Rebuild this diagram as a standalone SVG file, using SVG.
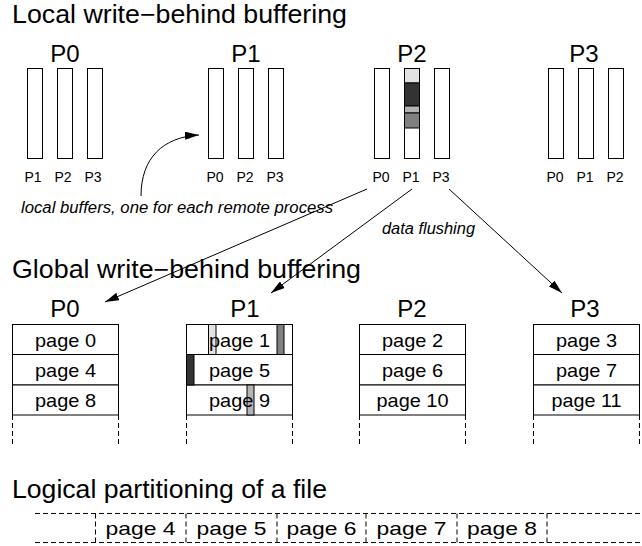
<svg xmlns="http://www.w3.org/2000/svg" width="642" height="546" viewBox="0 0 642 546">
<style>
text{font-family:"Liberation Sans",Arial,sans-serif;fill:#000}
.title{font-size:25px}
.big{font-size:24px;text-anchor:middle}
.small{font-size:14px;text-anchor:middle}
.page{font-size:19px;text-anchor:middle}
.note{font-size:16px;font-style:italic}
.bar{fill:#fff;stroke:#000;stroke-width:1}
.cell{fill:#fff;stroke:#000;stroke-width:1}
.dash{fill:none;stroke:#000;stroke-width:1;stroke-dasharray:5 3}
.conn{fill:none;stroke:#000;stroke-width:1}
.seg{stroke:#000;stroke-width:1}
</style>
<defs>
<marker id="ah" markerUnits="userSpaceOnUse" markerWidth="15" markerHeight="8" refX="14" refY="4" orient="auto">
<path d="M0,0 L14,4 L0,8 z" fill="#000"/>
</marker>
</defs>
<rect width="642" height="546" fill="#fff"/>

<text class="title" x="12" y="23" textLength="335" lengthAdjust="spacingAndGlyphs">Local write−behind buffering</text>

<g id="local-P0">
<text class="big" x="65" y="62">P0</text>
<rect class="bar" x="27.5" y="68.5" width="15" height="90"/>
<rect class="bar" x="57.5" y="68.5" width="15" height="90"/>
<rect class="bar" x="87.5" y="68.5" width="15" height="90"/>
<text class="small" x="33" y="182">P1</text>
<text class="small" x="63" y="182">P2</text>
<text class="small" x="93" y="182">P3</text>
</g>
<g id="local-P1">
<text class="big" x="246" y="62">P1</text>
<rect class="bar" x="208.5" y="68.5" width="15" height="90"/>
<rect class="bar" x="238.5" y="68.5" width="15" height="90"/>
<rect class="bar" x="268.5" y="68.5" width="15" height="90"/>
<text class="small" x="215" y="182">P0</text>
<text class="small" x="245" y="182">P2</text>
<text class="small" x="275" y="182">P3</text>
</g>
<g id="local-P2">
<text class="big" x="412" y="62">P2</text>
<rect class="bar" x="374.5" y="68.5" width="15" height="90"/>
<rect class="bar" x="404.5" y="68.5" width="15" height="90"/>
<rect class="seg" x="404.5" y="68.5" width="15" height="14.5" fill="#e2e2e2"/>
<rect class="seg" x="404.5" y="83" width="15" height="23" fill="#333"/>
<rect class="seg" x="404.5" y="106" width="15" height="7" fill="#b3b3b3"/>
<rect class="seg" x="404.5" y="113" width="15" height="15" fill="#808080"/>
<rect class="bar" x="434.5" y="68.5" width="15" height="90"/>
<text class="small" x="381" y="182">P0</text>
<text class="small" x="411" y="182">P1</text>
<text class="small" x="441" y="182">P3</text>
</g>
<g id="local-P3">
<text class="big" x="584" y="62">P3</text>
<rect class="bar" x="548.5" y="68.5" width="15" height="90"/>
<rect class="bar" x="578.5" y="68.5" width="15" height="90"/>
<rect class="bar" x="608.5" y="68.5" width="15" height="90"/>
<text class="small" x="555" y="182">P0</text>
<text class="small" x="585" y="182">P1</text>
<text class="small" x="615" y="182">P2</text>
</g>

<text class="note" x="21" y="213" textLength="312" lengthAdjust="spacingAndGlyphs">local buffers, one for each remote process</text>
<text class="note" x="382" y="234" textLength="93" lengthAdjust="spacingAndGlyphs">data flushing</text>

<text class="title" x="12" y="278" textLength="349" lengthAdjust="spacingAndGlyphs">Global write−behind buffering</text>

<g id="global-P0">
<text class="big" x="65" y="317">P0</text>
<rect class="cell" x="12.5" y="324.5" width="106" height="30"/>
<rect class="cell" x="12.5" y="354.5" width="106" height="30.5"/>
<rect class="cell" x="12.5" y="385" width="106" height="30"/>
<text class="page" x="65.5" y="347" textLength="61" lengthAdjust="spacingAndGlyphs">page 0</text>
<text class="page" x="65.5" y="377" textLength="61" lengthAdjust="spacingAndGlyphs">page 4</text>
<text class="page" x="65.5" y="407" textLength="61" lengthAdjust="spacingAndGlyphs">page 8</text>
<path class="dash" d="M12.5,415 V445 M118.5,415 V445"/>
</g>
<g id="global-P1">
<text class="big" x="245" y="317">P1</text>
<rect class="cell" x="186.5" y="324.5" width="106" height="30"/>
<rect class="cell" x="186.5" y="354.5" width="106" height="30.5"/>
<rect class="cell" x="186.5" y="385" width="106" height="30"/>
<rect class="seg" x="208.5" y="324.5" width="7.5" height="30" fill="#e2e2e2"/>
<rect class="seg" x="277" y="324.5" width="7" height="30" fill="#808080"/>
<rect class="seg" x="186.5" y="354.5" width="7.5" height="30.5" fill="#333"/>
<rect class="seg" x="247" y="385" width="7" height="30" fill="#b3b3b3"/>
<text class="page" x="239.5" y="347" textLength="61" lengthAdjust="spacingAndGlyphs">page 1</text>
<text class="page" x="239.5" y="377" textLength="61" lengthAdjust="spacingAndGlyphs">page 5</text>
<text class="page" x="239.5" y="407" textLength="61" lengthAdjust="spacingAndGlyphs">page 9</text>
<path class="dash" d="M186.5,415 V445 M292.5,415 V445"/>
</g>
<g id="global-P2">
<text class="big" x="412" y="317">P2</text>
<rect class="cell" x="359.5" y="324.5" width="106" height="30"/>
<rect class="cell" x="359.5" y="354.5" width="106" height="30.5"/>
<rect class="cell" x="359.5" y="385" width="106" height="30"/>
<text class="page" x="412.5" y="347" textLength="61" lengthAdjust="spacingAndGlyphs">page 2</text>
<text class="page" x="412.5" y="377" textLength="61" lengthAdjust="spacingAndGlyphs">page 6</text>
<text class="page" x="412.5" y="407" textLength="72" lengthAdjust="spacingAndGlyphs">page 10</text>
<path class="dash" d="M359.5,415 V445 M465.5,415 V445"/>
</g>
<g id="global-P3">
<text class="big" x="585" y="317">P3</text>
<rect class="cell" x="533.5" y="324.5" width="106" height="30"/>
<rect class="cell" x="533.5" y="354.5" width="106" height="30.5"/>
<rect class="cell" x="533.5" y="385" width="106" height="30"/>
<text class="page" x="586.5" y="347" textLength="61" lengthAdjust="spacingAndGlyphs">page 3</text>
<text class="page" x="586.5" y="377" textLength="61" lengthAdjust="spacingAndGlyphs">page 7</text>
<text class="page" x="586.5" y="407" textLength="70" lengthAdjust="spacingAndGlyphs">page 11</text>
<path class="dash" d="M533.5,415 V445 M639.5,415 V445"/>
</g>

<g id="connectors">
<path class="conn" d="M141,196 C141,158 163,137 199,135" marker-end="url(#ah)"/>
<line class="conn" x1="367" y1="189" x2="105" y2="302" marker-end="url(#ah)"/>
<line class="conn" x1="412" y1="189" x2="271" y2="293" marker-end="url(#ah)"/>
<line class="conn" x1="449" y1="189" x2="562" y2="293" marker-end="url(#ah)"/>
</g>

<text class="title" x="12" y="498" textLength="315" lengthAdjust="spacingAndGlyphs">Logical partitioning of a file</text>

<g id="file">
<path class="dash" d="M35,513.5 H642 M35,542.5 H642"/>
<path class="dash" d="M95.5,513.5 V542.5 M186,513.5 V542.5 M277,513.5 V542.5 M366,513.5 V542.5 M457,513.5 V542.5 M547,513.5 V542.5"/>
<text class="page" x="140.5" y="535" textLength="70" lengthAdjust="spacingAndGlyphs">page 4</text>
<text class="page" x="231.5" y="535" textLength="70" lengthAdjust="spacingAndGlyphs">page 5</text>
<text class="page" x="321.5" y="535" textLength="70" lengthAdjust="spacingAndGlyphs">page 6</text>
<text class="page" x="411.5" y="535" textLength="70" lengthAdjust="spacingAndGlyphs">page 7</text>
<text class="page" x="502" y="535" textLength="70" lengthAdjust="spacingAndGlyphs">page 8</text>
</g>
</svg>
